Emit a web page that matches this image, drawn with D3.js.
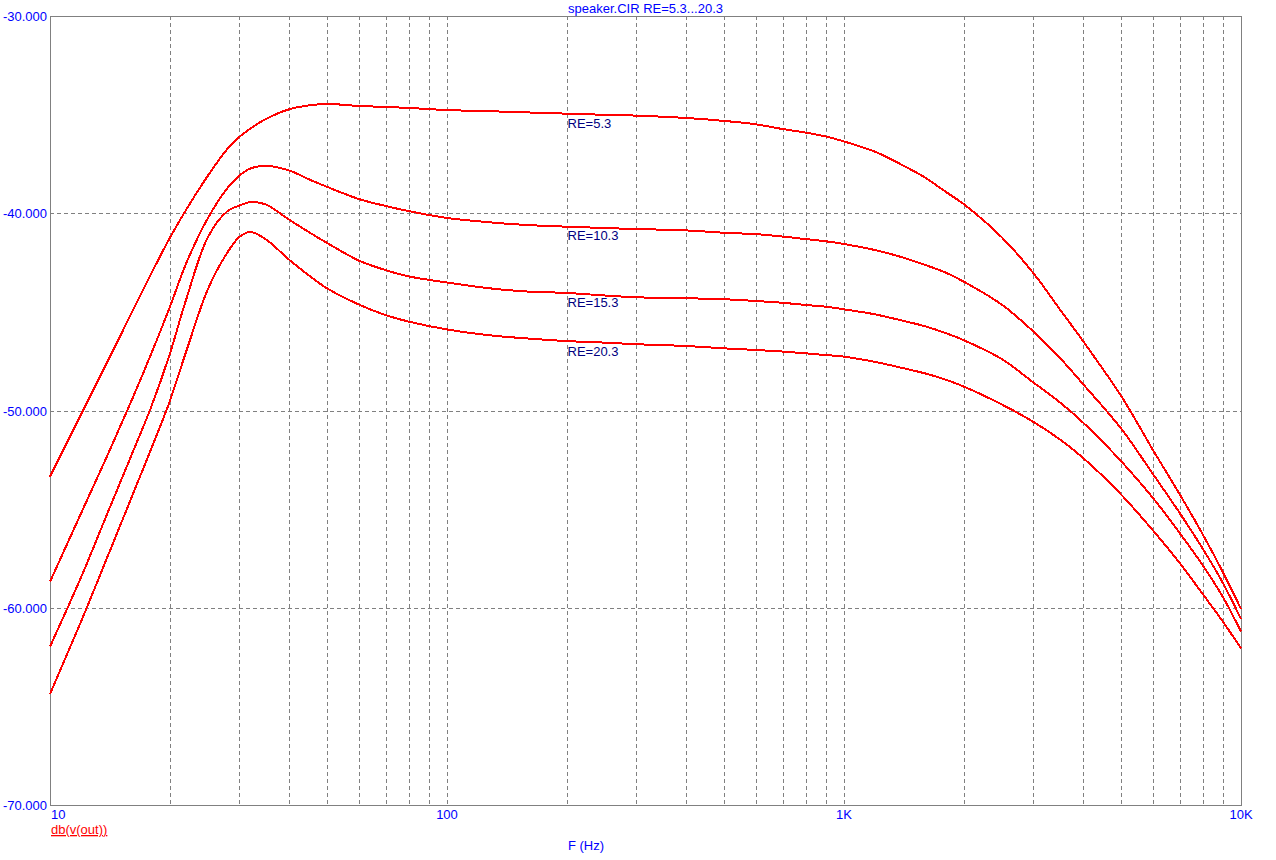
<!DOCTYPE html>
<html>
<head>
<meta charset="utf-8">
<script src="https://cdn.jsdelivr.net/npm/d3@7"></script>
<style>
  html, body { margin: 0; padding: 0; background: #ffffff; }
  svg { display: block; }
  text { font-family: "Liberation Sans", Arial, sans-serif; }
</style>
</head>
<body>
<svg id="chart" width="1276" height="860"></svg>
<script>
// ---- Data ----
const freqs = [10, 12, 14, 16, 18, 20, 22, 25, 28, 30, 32, 35, 40, 45, 50, 60, 70, 80, 100, 130, 160, 200, 250, 300,
  400, 500, 600, 700, 800, 900, 1000, 1200, 1400, 1600, 1800, 2000, 2500, 3000, 3500, 4000, 5000, 6000, 7000, 8000, 9000, 10000];

const re53 = [-53.36, -50.17, -47.47, -45.11, -43.05, -41.28, -39.84, -38.09, -36.73, -36.13, -35.70, -35.22, -34.73, -34.53, -34.46,
  -34.56, -34.61, -34.66, -34.77, -34.83, -34.89, -34.95, -35.01, -35.05, -35.17, -35.32, -35.49, -35.73, -35.91, -36.11, -36.36,
  -36.89, -37.55, -38.19, -38.90, -39.53, -41.23, -43.04, -44.88, -46.48, -49.29, -52.00, -54.23, -56.26, -58.19, -60.06];

const re103 = [-58.68, -55.17, -52.21, -49.56, -47.11, -44.80, -42.57, -40.24, -38.72, -38.09, -37.73, -37.60, -37.83, -38.29, -38.67,
  -39.28, -39.63, -39.89, -40.24, -40.47, -40.60, -40.68, -40.75, -40.80, -40.87, -40.99, -41.06, -41.18, -41.31, -41.42, -41.56,
  -41.87, -42.23, -42.62, -43.00, -43.46, -44.64, -46.00, -47.34, -48.66, -50.94, -53.22, -55.18, -56.99, -58.74, -60.57];

const re153 = [-61.97, -58.41, -55.14, -52.32, -49.80, -47.18, -44.41, -41.20, -39.89, -39.61, -39.43, -39.56, -40.32, -40.97, -41.52,
  -42.40, -42.88, -43.20, -43.51, -43.82, -43.97, -44.04, -44.17, -44.26, -44.31, -44.36, -44.45, -44.54, -44.65, -44.74, -44.87,
  -45.13, -45.44, -45.73, -46.07, -46.43, -47.40, -48.58, -49.59, -50.61, -52.59, -54.43, -56.20, -57.83, -59.45, -61.21];

const re203 = [-64.37, -60.65, -57.35, -54.47, -51.93, -49.57, -47.05, -43.84, -41.98, -41.20, -40.95, -41.33, -42.35, -43.17, -43.82,
  -44.63, -45.16, -45.49, -45.89, -46.20, -46.35, -46.48, -46.56, -46.64, -46.73, -46.85, -46.93, -47.01, -47.10, -47.19, -47.27,
  -47.54, -47.84, -48.12, -48.43, -48.78, -49.70, -50.58, -51.47, -52.40, -54.28, -56.08, -57.72, -59.29, -60.70, -62.06];

const seriesNames = ["RE=5.3", "RE=10.3", "RE=15.3", "RE=20.3"];
const seriesValues = [re53, re103, re153, re203];
// label anchor (frequency, dB of text baseline) for each curve label
const labelFreq = [200, 200, 200, 200];
const labelDb = [-35.66, -41.37, -44.76, -47.24];

const xTickValues = [10, 100, 1000, 10000];
const xTickLabels = ["10", "100", "1K", "10K"];
const yTickValues = [-30, -40, -50, -60, -70];
const yTickLabels = ["-30.000", "-40.000", "-50.000", "-60.000", "-70.000"];
const minorFreqs = [20, 30, 40, 50, 60, 70, 80, 90, 200, 300, 400, 500, 600, 700, 800, 900,
  2000, 3000, 4000, 5000, 6000, 7000, 8000, 9000];

const titleText = "speaker.CIR RE=5.3...20.3";
const yExprText = "db(v(out))";
const xAxisTitle = "F (Hz)";

// ---- Layout ----
const L = 50, R = 1241, T = 16, B = 805;
const svg = d3.select("#chart");
const x = d3.scaleLog().domain([10, 10000]).range([L, R]);
const y = d3.scaleLinear().domain([-70, -30]).range([B, T]);
const px = v => Math.round(x(v)) + 0.5;
const py = v => Math.round(y(v)) + 0.5;

const gridColor = "#808080";
const grid = svg.append("g").attr("shape-rendering", "crispEdges");

// vertical grid lines (dashed)
grid.selectAll("line.vx")
  .data(minorFreqs.concat([100, 1000]))
  .enter().append("line")
  .attr("x1", d => px(d)).attr("x2", d => px(d))
  .attr("y1", T).attr("y2", B)
  .attr("stroke", gridColor).attr("stroke-width", 1)
  .attr("stroke-dasharray", "4,3");

// horizontal grid lines (dashed)
grid.selectAll("line.hy")
  .data([-40, -50, -60])
  .enter().append("line")
  .attr("x1", L).attr("x2", R)
  .attr("y1", d => py(d)).attr("y2", d => py(d))
  .attr("stroke", gridColor).attr("stroke-width", 1)
  .attr("stroke-dasharray", "4,3");

// frame
grid.append("rect")
  .attr("x", L + 0.5).attr("y", T + 0.5)
  .attr("width", Math.round(R - L)).attr("height", Math.round(B - T))
  .attr("fill", "none").attr("stroke", gridColor).attr("stroke-width", 1);

// ---- Curves ----
const line = d3.line()
  .x(d => x(d[0]))
  .y(d => y(d[1]))
  .curve(d3.curveCatmullRom.alpha(0.5));

const curves = svg.append("g");
seriesValues.forEach(vals => {
  curves.append("path")
    .datum(freqs.map((f, i) => [f, vals[i]]))
    .attr("d", line)
    .attr("fill", "none")
    .attr("stroke", "#ff0000")
    .attr("stroke-width", 2)
    .attr("shape-rendering", "crispEdges");
});

// ---- Curve labels ----
const lab = svg.append("g");
seriesNames.forEach((name, i) => {
  lab.append("text")
    .attr("x", x(labelFreq[i]) + 1).attr("y", y(labelDb[i]))
    .attr("font-size", 13)
    .attr("fill", "#000080")
    .text(name);
});

// ---- Axis labels ----
const axisColor = "#0000ff";
svg.append("g").selectAll("text")
  .data(yTickValues)
  .enter().append("text")
  .attr("x", L - 3)
  .attr("y", d => y(d) + 5)
  .attr("text-anchor", "end")
  .attr("font-size", 13)
  .attr("fill", axisColor)
  .text((d, i) => yTickLabels[i]);

svg.append("g").selectAll("text")
  .data(xTickValues)
  .enter().append("text")
  .attr("x", (d, i) => i === 0 ? L + 1 : x(d))
  .attr("y", 819)
  .attr("text-anchor", (d, i) => i === 0 ? "start" : "middle")
  .attr("font-size", 13)
  .attr("fill", axisColor)
  .text((d, i) => xTickLabels[i]);

// title
svg.append("text")
  .attr("x", (L + R) / 2).attr("y", 13)
  .attr("text-anchor", "middle")
  .attr("font-size", 13)
  .attr("fill", axisColor)
  .text(titleText);

// y expression (red underlined)
svg.append("text")
  .attr("x", L + 1).attr("y", 834)
  .attr("font-size", 13)
  .attr("fill", "#ff0000")
  .attr("text-decoration", "underline")
  .text(yExprText);

// x axis title
svg.append("text")
  .attr("x", 586).attr("y", 850)
  .attr("text-anchor", "middle")
  .attr("font-size", 13)
  .attr("fill", axisColor)
  .text(xAxisTitle);
</script>
</body>
</html>
